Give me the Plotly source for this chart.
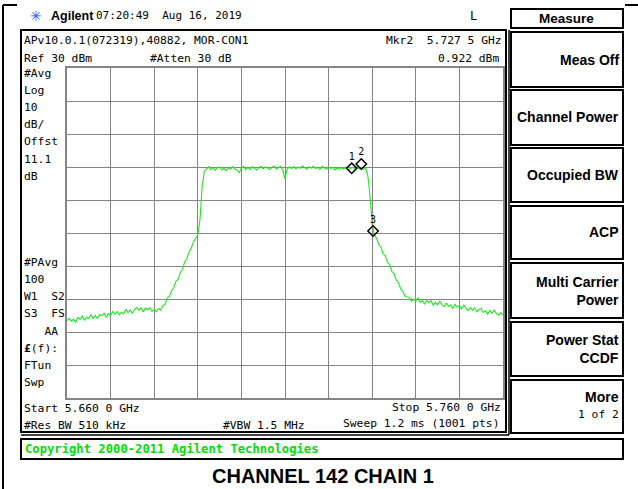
import numpy as np
import plotly.graph_objects as go

W, H = 638, 489
GX0, GX1, GY0, GY1 = 67, 503, 68, 398  # graticule box, pixels

F_START, F_STOP = 5.660, 5.760
REF_LEVEL, DB_DIV = 30, 10

# trace levels (dBm), 201 sweep points start..stop
level_dbm = [
    # left noise floor
    -46.6, -45.9, -46.8, -46.1, -47.0, -45.6, -46.2, -45.2, -46.4, -45.6,
    -45.9, -44.7, -45.9, -45.0, -45.9, -44.7, -45.1, -44.3, -45.6, -44.5,
    -45.0, -43.8, -44.6, -43.8, -44.8, -44.0, -44.5, -43.1, -44.1, -43.3,
    -44.3, -43.2, -42.6, -43.4, -42.7, -43.9, -42.7, -43.3, -42.6, -43.8,
    -43.1, -43.9, -42.9, -43.4,
    # lower skirt + left band edge
    -42.0, -41.6, -39.7, -39.2, -37.5, -36.6, -34.6, -34.1, -31.9, -31.0,
    -28.7, -27.8, -25.8, -24.6, -22.7, -21.7, -20.6, -16.0, -6.0, -1.3,
    # in-band
    -0.5, 0.1, -0.8, -0.2, -1.0, -0.3, 0.0, -0.9, -0.4, -1.1,
    -0.2, -0.7, 0.1, -0.6, -0.9, -1.7, -0.3, 0.2, -0.7, -0.1,
    -0.8, 0.1, -0.5, -0.9, -0.2, 0.2, -0.6, 0.1, -0.4, -0.8,
    -0.1, 0.3, -0.6, -0.2, 0.2, -1.0, -3.6, -0.7, 0.1, -0.5,
    0.2, -0.6, 0.0, -0.4, 0.3, -0.2, -0.7, 0.1, -0.3, 0.2,
    -0.5, 0.0, -0.8, 0.2, -0.3, -0.7, 0.1, -0.5, -0.1, -0.9,
    -0.3, -0.8, -0.2, -0.6, 0.0, -0.9, -0.4, -0.1, -0.7, 0.1,
    -0.5, -0.2, -0.8, -0.3,
    # right band edge + skirt
    -2.6, -8.8, -17.5, -20.5, -21.6, -23.4, -24.3, -26.3, -26.9, -28.9,
    -29.5, -31.6, -32.3, -34.2, -35.0, -36.8, -37.6, -39.1, -39.4,
    # right noise floor
    -39.5, -40.7, -40.0, -40.6, -39.7, -41.0, -40.5, -41.5, -40.4, -41.1,
    -40.5, -41.9, -41.0, -41.8, -40.7, -41.7, -42.3, -41.3, -42.2, -41.8,
    -42.9, -41.6, -42.5, -42.0, -43.0, -41.9, -42.8, -43.5, -42.6, -43.4,
    -42.7, -43.9, -43.2, -42.9, -44.1, -43.6, -44.6, -43.5, -44.3, -43.4,
    -44.4, -44.9, -44.1, -44.9,
]
freq_ghz = np.linspace(F_START, F_STOP, len(level_dbm))

mkr_freq = [5.7253, 5.7275, 5.7302]
mkr_level = [-0.4, 0.922, -19.4]
mkr_label = ["1", "2", "3"]

left_notes = ["#Avg", "Log", "10", "dB/", "Offst", "11.1", "dB", "", "", "", "",
              "#PAvg", "100", "W1  S2", "S3  FS", "   AA", "<b>£</b>(f):", "FTun", "Swp"]
softkeys = ["Meas Off", "Channel Power", "Occupied BW", "ACP",
            "Multi Carrier<br>Power", "Power Stat<br>CCDF", "More"]
key_tops = [32, 90, 148, 206, 263, 322, 380]
key_bots = [87, 145, 202, 259, 318, 376, 433]

MONO = "DejaVu Sans Mono"
SANS = "Liberation Sans"


def px(x):
    return x / W


def py(y):
    return 1 - y / H


fig = go.Figure()
fig.add_trace(go.Scatter(x=freq_ghz, y=level_dbm, mode="lines",
                         line=dict(color="#1ee81e", width=1.1), hoverinfo="skip"))
fig.add_trace(go.Scatter(x=mkr_freq, y=mkr_level, mode="markers+text", text=mkr_label,
                         textposition="top center", textfont=dict(family=MONO, size=10, color="black"),
                         marker=dict(symbol="diamond-open", size=8, color="black", line=dict(width=1.5))))

ann = []


def txt(x, y, s, anchor="left", size=11.3, family=MONO, color="black"):
    ann.append(dict(x=px(x), y=py(y), xref="paper", yref="paper", text=s, showarrow=False,
                    xanchor=anchor, yanchor="middle", align=anchor if anchor != "center" else "center",
                    font=dict(family=family, size=size, color=color)))


shapes = []


def rect(x0, y0, x1, y1, w=2, color="black"):
    shapes.append(dict(type="rect", xref="paper", yref="paper", x0=px(x0), x1=px(x1),
                       y0=py(y1), y1=py(y0), line=dict(color=color, width=w)))


def line(x0, y0, x1, y1, w=2, color="black"):
    shapes.append(dict(type="line", xref="paper", yref="paper", x0=px(x0), x1=px(x1),
                       y0=py(y0), y1=py(y1), line=dict(color=color, width=w)))


# page frame
line(3, 5, 3, 489)
line(3, 5, 17, 5)
line(625, 5, 638, 5)

# header row
txt(36, 16, "✳", anchor="center", size=14, family="DejaVu Sans", color="#3a4cff")
txt(49, 16, "<b>Agilent</b>", size=12.5, family=SANS)
txt(94, 16, "07:20:49  Aug 16, 2019", size=11)
txt(473, 16, "L", anchor="center", size=12)

# screen box
rect(21, 30, 506, 432)
line(509, 30, 509, 435, w=1.5)
line(21, 435, 509, 435, w=1.5)

txt(22, 40, "APv10.0.1(072319),40882, MOR-CON1")
txt(22, 58, "Ref 30 dBm")
txt(148, 58, "#Atten 30 dB")
txt(504, 40, "Mkr2  5.727 5 GHz", anchor="right")
txt(501, 58, "0.922 dBm", anchor="right")
for i, s in enumerate(left_notes):
    if s:
        txt(22, 73 + i * 17.2, s)
txt(22, 408, "Start 5.660 0 GHz")
txt(503, 407, "Stop 5.760 0 GHz", anchor="right")
txt(22, 425, "#Res BW 510 kHz")
txt(221, 425, "#VBW 1.5 MHz")
txt(501, 423, "Sweep 1.2 ms (1001 pts)", anchor="right")

# softkeys
rect(511, 9, 623, 28)
txt(566, 18, "<b>Measure</b>", anchor="center", size=13.5, family=SANS)
for s, t, b in zip(softkeys, key_tops, key_bots):
    rect(511, t, 623, b)
    if s == "More":
        txt(621, 397, "<b>More</b>", anchor="right", size=14, family=SANS)
        txt(621, 414, "1 of 2", anchor="right", size=11.3)
    else:
        txt(621, (t + b) / 2, "<b>%s</b>" % s, anchor="right", size=14, family=SANS)

# copyright bar
rect(21, 439, 623, 459)
txt(23, 449, "<b>Copyright 2000-2011 Agilent Technologies</b>", size=12.2, color="#00dd00")

# title
txt(323, 476, "<b>CHANNEL 142 CHAIN 1</b>", anchor="center", size=20, family=SANS)

grid = "#858585"
fig.update_layout(
    width=W, height=H, margin=dict(l=0, r=0, t=0, b=0),
    paper_bgcolor="white", plot_bgcolor="white", showlegend=False,
    annotations=ann, shapes=shapes,
    xaxis=dict(domain=[px(GX0), px(GX1)], range=[F_START, F_STOP], dtick=0.01, tick0=F_START,
               showticklabels=False, ticks="", showgrid=True, gridcolor=grid, gridwidth=1,
               showline=True, linecolor=grid, linewidth=1.5, mirror=True, zeroline=False),
    yaxis=dict(domain=[py(GY1), py(GY0)], range=[REF_LEVEL - 10 * DB_DIV, REF_LEVEL], dtick=DB_DIV,
               showticklabels=False, ticks="", showgrid=True, gridcolor=grid, gridwidth=1,
               showline=True, linecolor=grid, linewidth=1.5, mirror=True, zeroline=False),
)

# the page's default 8px body margin would shift the whole screen; drop it
fig.write_html("out.html", config={"displayModeBar": False},
               post_script="document.body.style.margin='0';document.body.style.overflow='hidden';")
